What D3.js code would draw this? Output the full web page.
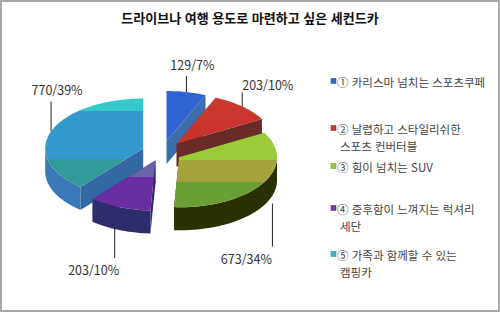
<!DOCTYPE html>
<html lang="ko">
<head>
<meta charset="UTF-8">
<title>드라이브나 여행 용도로 마련하고 싶은 세컨드카</title>
<script src="https://d3js.org/d3.v7.min.js"></script>
<style>
  body { margin: 0; background: #fff; }
  text { font-family: "Noto Sans CJK KR", "Noto Sans", sans-serif; }
</style>
</head>
<body>
<svg id="chart" width="500" height="312"></svg>
<script>
// data
const categories = [
    ["① 카리스마 넘치는 스포츠쿠페"],
    ["② 날렵하고 스타일리쉬한", "스포츠 컨버터블"],
    ["③ 힘이 넘치는 SUV"],
    ["④ 중후함이 느껴지는 럭셔리", "세단"],
    ["⑤ 가족과 함께할 수 있는", "캠핑카"]
];
const values = [129, 203, 673, 203, 770];
const title = "드라이브나 여행 용도로 마련하고 싶은 세컨드카";

// look
const topColors = [
    [["0", "#2f63d2"], ["1", "#2f63d2"]],
    [["0", "#cc3a2e"], ["1", "#c8302a"]],
    [["0", "#9ccb3a"], ["0.36", "#9ccb3a"], ["0.36", "#a4a23a"], ["0.66", "#a4a23a"], ["0.66", "#6b9f36"], ["1", "#6b9f36"]],
    [["0", "#6c64a8"], ["0.32", "#6c64a8"], ["0.32", "#6a2ea2"], ["1", "#6a2ea2"]],
    [["0", "#36c9cc"], ["0.14", "#36c9cc"], ["0.14", "#3399cc"], ["0.68", "#3399cc"], ["0.68", "#339a9a"], ["1", "#339a9a"]]
];
const cutColors = ["#3b6ea8", "#6a2b28", "#3a3a22", "#2e2b6c", "#3368a4"];
const wallColors = ["#2d4f8a", "#5a2420", "#2b3000", "#2f2c6e", "#3a78b8"];
const legendColors = ["#3366cc", "#c83a30", "#99cc33", "#7040a0", "#33b8d0"];
const explode = [22, 22, 20, 18, 20];
const leader = [-16, -14, 40, 28, -30];
const labelDx = [0, 0, 10, -5, 0];
const textDx = [6, 0, -26, -21, 6];

const svg = d3.select("#chart");
const W = 500, H = 312;
const cx = 162, cy = 152, rx = 98, ry = 50, depth = 23;

svg.append("rect").attr("x", 1).attr("y", 1).attr("width", W - 2).attr("height", H - 2)
    .attr("fill", "#fff").attr("stroke", "#a8a8a8").attr("stroke-width", 2);

svg.append("text").attr("x", 250).attr("y", 23).attr("text-anchor", "middle")
    .attr("font-size", 13).attr("font-weight", "bold").attr("fill", "#111").text(title);

const defs = svg.append("defs");
topColors.forEach((stops, i) => {
    const g = defs.append("linearGradient").attr("id", "top" + i)
        .attr("x1", 0).attr("y1", 0).attr("x2", 0).attr("y2", 1);
    stops.forEach(s => g.append("stop").attr("offset", s[0]).attr("stop-color", s[1]));
});

const total = d3.sum(values);
const arcs = d3.pie().sort(null).value(d => d)(values);

const line = d3.line();
function pt(a, ox, oy, z) {
    return [ox + rx * Math.sin(a), oy - ry * Math.cos(a) + z];
}
function rim(a0, a1, ox, oy, z) {
    const n = Math.max(2, Math.ceil((a1 - a0) / 0.04));
    return d3.range(n + 1).map(k => pt(a0 + (a1 - a0) * k / n, ox, oy, z));
}

const slices = arcs.map((d, i) => {
    const mid = (d.startAngle + d.endAngle) / 2;
    const ox = cx + explode[i] * Math.sin(mid);
    const oy = cy - explode[i] * Math.cos(mid) * ry / rx;
    return {d, i, mid, ox, oy};
});

const pieG = svg.append("g");
slices.slice().sort((a, b) => -Math.cos(a.mid) + Math.cos(b.mid)).forEach(s => {
    const {d, i, ox, oy} = s;
    const g = pieG.append("g");
    // cut faces
    [d.startAngle, d.endAngle].forEach(a => {
        const p = pt(a, ox, oy, 0);
        g.append("path").attr("fill", cutColors[i])
            .attr("d", line([[ox, oy], p, [p[0], p[1] + depth], [ox, oy + depth]]) + "Z");
    });
    // outer wall (front part only)
    const w0 = Math.max(d.startAngle, Math.PI / 2), w1 = Math.min(d.endAngle, Math.PI * 1.5);
    if (w1 > w0) {
        const pts = rim(w0, w1, ox, oy, 0).concat(rim(w0, w1, ox, oy, depth).reverse());
        g.append("path").attr("fill", wallColors[i]).attr("d", line(pts) + "Z");
    }
    // top face
    const top = [[ox, oy]].concat(rim(d.startAngle, d.endAngle, ox, oy, 0));
    g.append("path").attr("fill", "url(#top" + i + ")").attr("d", line(top) + "Z");
});

// data labels with leader lines
slices.forEach(s => {
    const {i, mid, ox, oy} = s;
    const p = pt(mid, ox, oy, -Math.cos(mid) > 0 ? depth : 0);
    const x = p[0] + labelDx[i];
    const y1 = -Math.cos(mid) > 0 ? p[1] - 3 : p[1];
    const y2 = p[1] + leader[i];
    svg.append("line").attr("x1", x).attr("y1", y1).attr("x2", x).attr("y2", y2)
        .attr("stroke", "#222").attr("stroke-width", 1);
    const up = leader[i] < 0;
    svg.append("text")
        .attr("x", x + textDx[i])
        .attr("y", up ? y2 - (i === 1 ? 2 : 6) : y2 + 17)
        .attr("text-anchor", i === 1 ? "start" : "middle")
        .attr("font-size", 12.5).attr("fill", "#333")
        .text(values[i] + "/" + Math.round(values[i] / total * 100) + "%");
});

// legend
const legendY = [83, 130, 168, 210, 256];
const lg = svg.append("g");
categories.forEach((lines, i) => {
    lg.append("rect").attr("x", 331).attr("y", legendY[i] - 4.5).attr("width", 5).attr("height", 5)
        .attr("fill", legendColors[i]).attr("stroke", d3.color(legendColors[i]).darker(1)).attr("stroke-width", 0.5);
    lines.forEach((t, k) => {
        lg.append("text").attr("x", k === 0 ? 337 : 340).attr("y", legendY[i] + 4 + k * 16.5)
            .attr("font-size", 11.5).attr("fill", "#444").text(t);
    });
});
</script>
</body>
</html>
